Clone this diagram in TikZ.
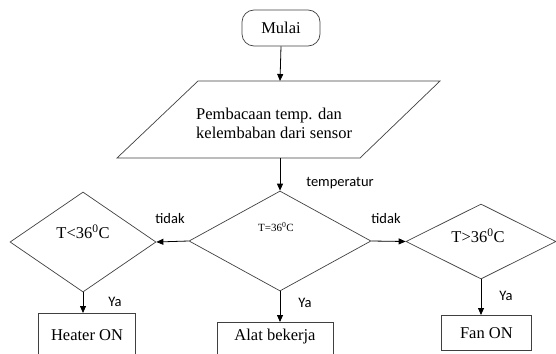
\documentclass[tikz,border=0pt]{standalone}
\usepackage{fontspec}
\setmainfont{Liberation Serif}
\newfontfamily\calib{Carlito}
\usetikzlibrary{shapes.geometric,arrows.meta}
\begin{document}
\begin{tikzpicture}[x=1pt,y=-1pt,
  shapeline/.style={draw=black!75,line width=0.7pt},
  conn/.style={draw=black,line width=0.8pt,-{Triangle[length=7pt,width=6pt]}},
  dia/.style={shapeline,diamond,inner sep=0pt,shape aspect=1},
  box/.style={shapeline,rectangle,inner sep=0pt},
  big/.style={font=\fontsize{16.5}{19}\selectfont},
  small/.style={font=\fontsize{11}{13}\selectfont},
  lab/.style={font=\calib\fontsize{14.5}{17}\selectfont,inner sep=0pt}]
\useasboundingbox (0,0) rectangle (556,353);
% start
\node[box,rounded corners=12pt,minimum width=78pt,minimum height=36pt,big] (mulai) at (281,28) {Mulai};
% parallelogram
\coordinate (ptl) at (198,81);
\coordinate (ptr) at (440,81);
\coordinate (pbr) at (360,158);
\coordinate (pbl) at (117,158);
\coordinate (ptop) at (280,81);
\coordinate (pbot) at (280,158);
\draw[shapeline] (ptl) -- (ptr) -- (pbr) -- (pbl) -- cycle;
\node[big,align=left,anchor=west,inner sep=0pt] (ptext) at (196,123) {Pembacaan temp. dan\\kelembaban dari sensor};
% diamonds
\node[dia,minimum width=182pt,minimum height=100pt] (dc) at (280,241) {};
\node[dia,minimum width=146pt,minimum height=100pt] (dl) at (83,242) {};
\node[dia,minimum width=150pt,minimum height=75pt] (dr) at (481,241.5) {};
\node[small,inner sep=0pt] (tc) at (276,227) {T=36\textsuperscript{0}C};
\node[big,inner sep=0pt] (tl) at (83,232) {T<36\textsuperscript{0}C};
\node[big,inner sep=0pt] (tr) at (478,236) {T>36\textsuperscript{0}C};
% boxes
\node[box,minimum width=97pt,minimum height=46pt,anchor=north west] (heater) at (38,313) {};
\node[big,inner sep=0pt] (heatert) at (87,335) {Heater ON};
\node[box,minimum width=116pt,minimum height=40pt,anchor=north west] (alat) at (217,322) {};
\node[big,inner sep=0pt] (alatt) at (275,337) {Alat bekerja};
\node[box,minimum width=90pt,minimum height=35pt,anchor=north west,big] (fan) at (441,315) {Fan ON};
% connectors
\draw[conn] (mulai.south) -- (ptop);
\draw[conn] (pbot) -- (dc.north);
\draw[conn] (dc.west) -- (dl.east);
\draw[conn] (dc.east) -- (dr.west);
\draw[conn] (dl.south) -- (dl.south |- heater.north);
\draw[conn] (dc.south) -- (dc.south |- alat.north);
\draw[conn] (dr.south) -- (dr.south |- fan.north);
% labels
\node[lab] (ltemp) at (340,183) {temperatur};
\node[lab] (ltl) at (170,219) {tidak};
\node[lab] (ltr) at (386,219) {tidak};
\node[lab] (lyl) at (115,302) {Ya};
\node[lab] (lyc) at (305,303) {Ya};
\node[lab] (lyr) at (506,296) {Ya};
\end{tikzpicture}
\end{document}
